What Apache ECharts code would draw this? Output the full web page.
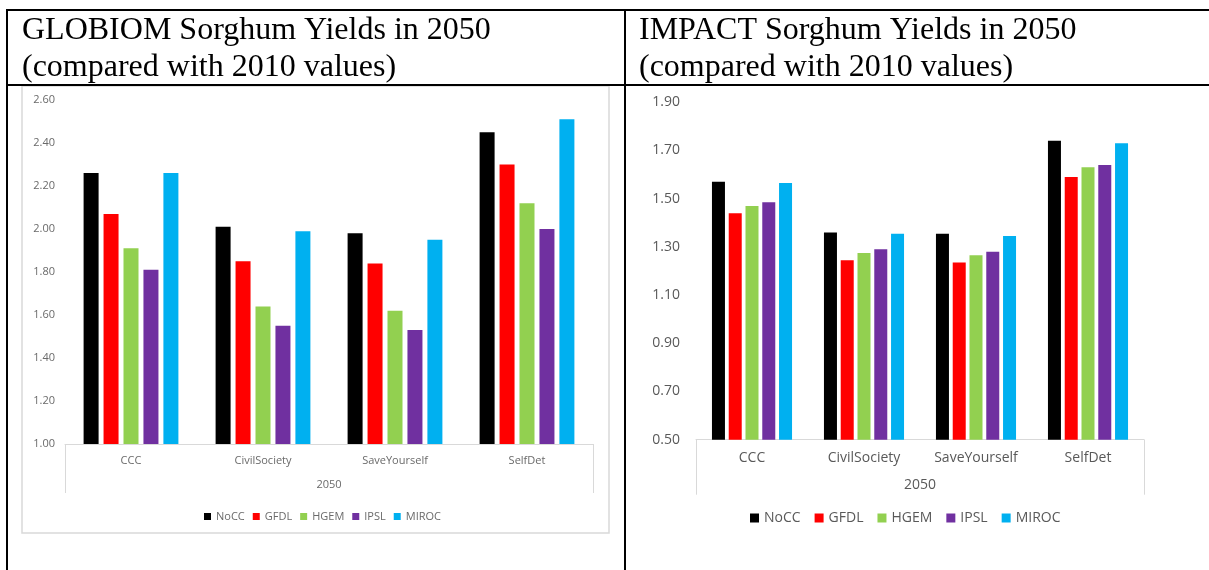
<!DOCTYPE html>
<html>
<head>
<meta charset="utf-8">
<script src="https://cdn.jsdelivr.net/npm/echarts@6/dist/echarts.min.js"></script>
<style>
html,body{margin:0;padding:0;background:#fff;}
#chart{width:1209px;height:570px;}
</style>
</head>
<body>
<div id="chart"></div>
<script>
// ---- data ----
const categories = ['CCC', 'CivilSociety', 'SaveYourself', 'SelfDet'];
const groupLabel = ['2050'];
const seriesNames = ['NoCC', 'GFDL', 'HGEM', 'IPSL', 'MIROC'];
const seriesColors = ['#000000', '#FF0000', '#92D050', '#7030A0', '#00B0F0'];

// GLOBIOM values (per scenario, per climate model)
const globiomNoCC  = [2.26, 2.01, 1.98, 2.45];
const globiomGFDL  = [2.07, 1.85, 1.84, 2.30];
const globiomHGEM  = [1.91, 1.64, 1.62, 2.12];
const globiomIPSL  = [1.81, 1.55, 1.53, 2.00];
const globiomMIROC = [2.26, 1.99, 1.95, 2.51];

// IMPACT values
const impactNoCC  = [1.57, 1.36, 1.355, 1.74];
const impactGFDL  = [1.44, 1.245, 1.235, 1.59];
const impactHGEM  = [1.47, 1.275, 1.265, 1.63];
const impactIPSL  = [1.485, 1.29, 1.28, 1.64];
const impactMIROC = [1.565, 1.355, 1.345, 1.73];

const globiomTitle = 'GLOBIOM Sorghum Yields in 2050\n(compared with 2010 values)';
const impactTitle = 'IMPACT Sorghum Yields in 2050\n(compared with 2010 values)';

const globiomData = [globiomNoCC, globiomGFDL, globiomHGEM, globiomIPSL, globiomMIROC];
const impactData = [impactNoCC, impactGFDL, impactHGEM, impactIPSL, impactMIROC];

const FONT = '"Open Sans", sans-serif';
const TXT = '#595959';
const TXT_L = '#6a6a6a';
const LINE = '#d9d9d9';

const series = [];
seriesNames.forEach((n, i) => {
  series.push({
    name: n, type: 'bar', xAxisIndex: 0, yAxisIndex: 0,
    data: globiomData[i], barWidth: 15, barGap: '33%',
    itemStyle: { color: seriesColors[i] }, silent: true
  });
});
seriesNames.forEach((n, i) => {
  series.push({
    name: n, type: 'bar', xAxisIndex: 2, yAxisIndex: 1,
    data: impactData[i], barWidth: 13, barGap: '29%',
    itemStyle: { color: seriesColors[i] }, silent: true
  });
});

const chart = echarts.init(document.getElementById('chart'), null, { renderer: 'canvas' });
chart.setOption({
  animation: false,
  backgroundColor: '#ffffff',
  title: [
    { text: globiomTitle, left: 22, top: 12, padding: 0,
      textStyle: { fontFamily: '"Liberation Serif", serif', fontSize: 32, fontWeight: 'normal', color: '#000', lineHeight: 37 } },
    { text: impactTitle, left: 639, top: 12, padding: 0,
      textStyle: { fontFamily: '"Liberation Serif", serif', fontSize: 32, fontWeight: 'normal', color: '#000', lineHeight: 37 } }
  ],
  graphic: [
    { type: 'rect', shape: { x: 22, y: 86, width: 587, height: 447 }, style: { fill: 'none', stroke: LINE, lineWidth: 1.5 }, z: 0 },
    { type: 'line', shape: { x1: 6, y1: 10, x2: 1209, y2: 10 }, style: { stroke: '#000', lineWidth: 2 } },
    { type: 'line', shape: { x1: 7, y1: 9, x2: 7, y2: 570 }, style: { stroke: '#000', lineWidth: 2 } },
    { type: 'line', shape: { x1: 625, y1: 9, x2: 625, y2: 570 }, style: { stroke: '#000', lineWidth: 2 } },
    { type: 'line', shape: { x1: 7, y1: 85, x2: 1209, y2: 85 }, style: { stroke: '#000', lineWidth: 2 } }
  ],
  legend: [
    { data: seriesNames, left: 199, top: 506, itemWidth: 7, itemHeight: 7, itemGap: 8, icon: 'rect',
      textStyle: { fontFamily: FONT, fontSize: 11, color: TXT_L }, selectedMode: false },
    { data: seriesNames, left: 745, top: 506, itemWidth: 9, itemHeight: 9, itemGap: 14, icon: 'rect',
      textStyle: { fontFamily: FONT, fontSize: 14, color: TXT }, selectedMode: false }
  ],
  grid: [
    { left: 65, right: 1209 - 593, top: 100, bottom: 570 - 444 },
    { left: 696, right: 1209 - 1144, top: 102.3, bottom: 570 - 439.7 }
  ],
  xAxis: [
    { type: 'category', gridIndex: 0, data: categories, position: 'bottom',
      axisLine: { lineStyle: { color: LINE, width: 1 } }, axisTick: { show: false },
      axisLabel: { color: TXT_L, fontFamily: FONT, fontSize: 11, margin: 11 } },
    { type: 'category', gridIndex: 0, data: groupLabel, position: 'bottom',
      axisLine: { show: false }, axisTick: { show: true, length: 49, lineStyle: { color: LINE } },
      axisLabel: { color: TXT_L, fontFamily: FONT, fontSize: 11, margin: 35 } },
    { type: 'category', gridIndex: 1, data: categories, position: 'bottom',
      axisLine: { lineStyle: { color: LINE, width: 1 } }, axisTick: { show: false },
      axisLabel: { color: TXT, fontFamily: FONT, fontSize: 14, margin: 11 } },
    { type: 'category', gridIndex: 1, data: groupLabel, position: 'bottom',
      axisLine: { show: false }, axisTick: { show: true, length: 55, lineStyle: { color: LINE } },
      axisLabel: { color: TXT, fontFamily: FONT, fontSize: 14, margin: 38 } }
  ],
  yAxis: [
    { type: 'value', gridIndex: 0, min: 1.0, max: 2.6, interval: 0.2,
      axisLine: { show: false }, axisTick: { show: false }, splitLine: { show: false },
      axisLabel: { color: TXT_L, fontFamily: FONT, fontSize: 11, margin: 10, formatter: v => v.toFixed(2) } },
    { type: 'value', gridIndex: 1, min: 0.5, max: 1.9, interval: 0.2,
      axisLine: { show: false }, axisTick: { show: false }, splitLine: { show: false },
      axisLabel: { color: TXT, fontFamily: FONT, fontSize: 14, margin: 16, formatter: v => v.toFixed(2) } }
  ],
  series: series
});
</script>
</body>
</html>
